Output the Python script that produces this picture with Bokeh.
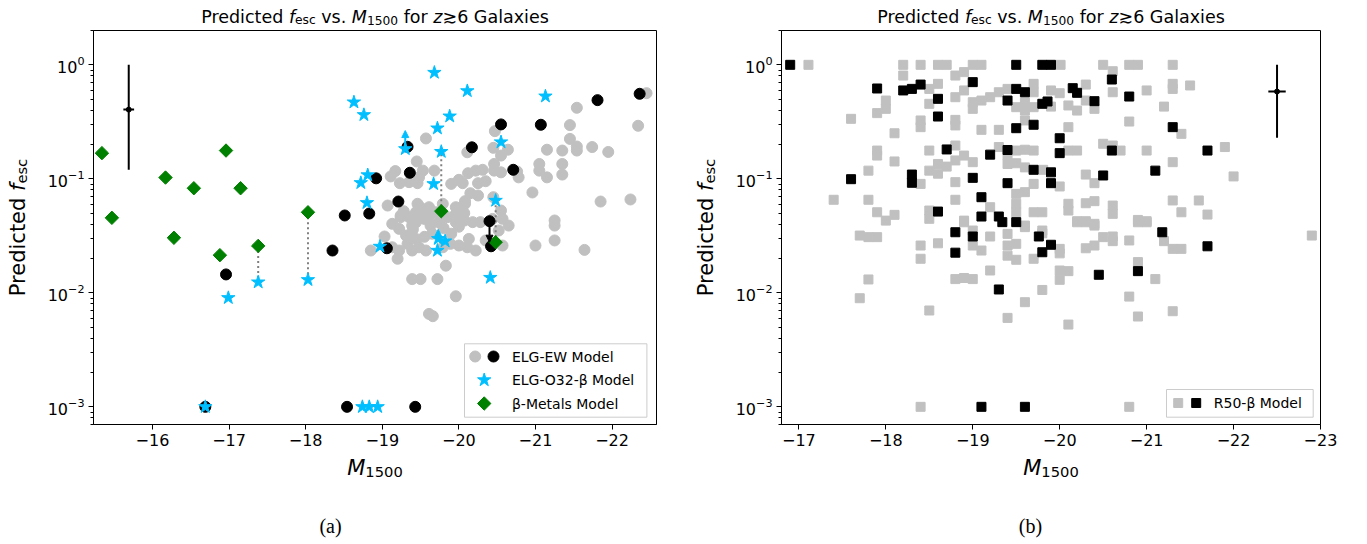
import numpy as np
from bokeh.plotting import figure
from bokeh.models import (Range1d, LinearScale, FixedTicker, LogTickFormatter, Label,
                          Arrow, NormalHead, ColumnDataSource, CustomJSTickFormatter)
from bokeh.layouts import row
from bokeh.embed import file_html
from bokeh.resources import INLINE

# ------------------------------------------------------------------ data (a)
# ELG-EW model, full sample (light gray circles)
EW_GRAY_M = [-22.45, -21.54, -21.45, -22.34, -20.47, -19.57, -21.45, -21.54, -21.74, -21.15,
             -21.35, -21.54, -21.95, -20.45, -20.64, -20.11, -20.55, -19.45, -19.17, -19.11,
             -20.46, -21.05, -21.35, -20.12, -20.22, -20.31, -20.46, -20.55, -20.76, -21.15,
             -21.35, -21.05, -20.78, -19.23, -19.35, -19.46, -19.48, -19.53, -19.68, -19.90,
             -20.00, -20.05, -20.25, -20.35, -20.96, -20.15, -20.25, -20.08, -20.45, -21.85,
             -22.24, -19.07, -19.46, -19.61, -19.79, -19.96, -20.08, -19.13, -19.24, -19.35,
             -19.44, -19.53, -19.61, -19.70, -19.85, -19.96, -20.07, -20.18, -20.28, -20.55,
             -20.57, -20.65, -21.25, -21.25, -19.39,
             -18.85, -19.03, -19.13, -19.22, -19.31, -19.39, -19.48, -19.57, -19.20, -19.33,
             -19.44, -19.79, -19.89, -20.00, -20.11, -20.22, -20.13, -19.83, -19.39, -19.50,
             -19.72, -19.96, -19.61, -19.66, -20.57, -21.00, -21.25, -20.52, -20.35, -19.24,
             -19.44, -19.55, -19.63, -19.74, -19.96, -20.07, -19.22, -20.44, -21.64,
             -19.28, -19.50, -19.65, -19.90, -20.00, -19.80, -19.40, -19.55]
EW_GRAY_F = [0.564, 0.42, 0.296, 0.292, 0.262, 0.226, 0.224, 0.192, 0.19, 0.18,
             0.177, 0.177, 0.172, 0.187, 0.18, 0.171, 0.16, 0.142, 0.117, 0.105,
             0.135, 0.135, 0.135, 0.112, 0.118, 0.12, 0.118, 0.114, 0.116, 0.103,
             0.109, 0.118, 0.103, 0.0916, 0.0935, 0.0916, 0.103, 0.118, 0.118, 0.0903,
             0.098, 0.0916, 0.0916, 0.0953, 0.0759, 0.0748, 0.0714, 0.0637, 0.069, 0.0632,
             0.0659, 0.0583, 0.0604, 0.0564, 0.0604, 0.0564, 0.0604, 0.0403, 0.0461, 0.0461,
             0.0509, 0.0476, 0.0461, 0.0509, 0.0461, 0.0493, 0.05, 0.0417, 0.0417, 0.0527,
             0.0446, 0.0389, 0.0431, 0.0389, 0.0389,
             0.0235, 0.0312, 0.0251, 0.0235, 0.0318, 0.0235, 0.0251, 0.0235, 0.0199, 0.0269,
             0.0297, 0.0251, 0.0269, 0.026, 0.0251, 0.0235, 0.0297, 0.0173, 0.0132, 0.0132,
             0.0132, 0.00933, 0.00653, 0.00624, 0.026, 0.026, 0.0288, 0.0352, 0.0288, 0.0476,
             0.0416, 0.0445, 0.0389, 0.0416, 0.0416, 0.043, 0.0364, 0.0445, 0.0238,
             0.052, 0.056, 0.033, 0.033, 0.038, 0.037, 0.036, 0.031]

# ELG-EW model, z>=6 subset (black circles)
EW_BLACK_M = [-18.92, -18.51, -18.83, -19.21, -19.33, -20.17, -20.55, -21.07, -21.81, -22.36,
              -19.36, -20.71, -20.40, -20.42, -19.06, -16.96, -18.35, -16.69, -18.54, -19.43]
EW_BLACK_F = [0.101, 0.0477, 0.0496, 0.0632, 0.191, 0.189, 0.30, 0.298, 0.49, 0.557,
              0.113, 0.12, 0.0425, 0.0256, 0.0246, 0.0145, 0.0235, 0.001, 0.001, 0.001]

# ELG-O32-beta model (stars)
O32_M = [-18.63, -18.76, -18.81, -18.72, -18.80, -19.68, -20.11, -21.13, -19.88, -19.72,
         -19.30, -20.55, -19.77, -19.67, -20.48, -18.97, -19.73, -19.82, -19.72, -20.41,
         -17.38, -18.03, -16.99, -16.69, -18.74, -18.83, -18.94]
O32_F = [0.47, 0.364, 0.108, 0.0922, 0.0616, 0.855, 0.59, 0.53, 0.354, 0.278,
         0.183, 0.21, 0.173, 0.0903, 0.0645, 0.0255, 0.0298, 0.0284, 0.0235, 0.0136,
         0.0124, 0.013, 0.00904, 0.001, 0.001, 0.001, 0.001]

# beta-Metals model (diamonds)
BM_M = [-15.34, -15.47, -16.17, -16.54, -16.96, -17.15, -18.03, -16.28, -16.88, -17.38,
        -19.77, -20.48]
BM_F = [0.168, 0.0455, 0.1026, 0.0827, 0.177, 0.0827, 0.0509, 0.0304, 0.0214, 0.0258,
        0.052, 0.0278]

# same galaxy in two models (dotted links)
LINK_M = [-17.38, -18.03, -19.77, -20.48]
LINK_F_BM = [0.0258, 0.0509, 0.052, 0.0278]
LINK_F_O32 = [0.0124, 0.013, 0.173, 0.0645]

# limits
LOWLIM_M = [-19.30, -19.73]
LOWLIM_F = [0.183, 0.0298]
LOWLIM_TO = [0.265, 0.036]
UPLIM_M = [-20.40]
UPLIM_F = [0.0425]
UPLIM_TO = [0.0278]

# representative error bar
ERR_A_M = [-15.69]
ERR_A_F = [0.405]
ERR_A_LO = [0.12]
ERR_A_HI = [1.0]
ERR_A_MERR = [0.07]

# ------------------------------------------------------------------ data (b)
R50_GRAY_M = [-17.11, -18.20, -18.40, -18.60, -18.70, -19.00, -19.10,
              -18.20, -18.80, -18.90, -18.60, -18.50, -18.50, -18.00, -18.00, -17.90, -17.60,
              -18.10, -18.40, -18.40, -18.80, -18.80, -18.90, -18.80, -19.00, -19.10, -19.20,
              -19.30, -19.40, -19.70, -19.70, -19.00, -19.10, -19.30, -19.60, -19.50, -19.60,
              -19.70, -19.60, -17.90, -17.90, -18.10, -18.50, -18.80, -18.90, -18.80, -19.00,
              -18.60, -18.70, -18.50, -18.60, -19.30, -19.40, -19.50, -19.60, -19.70, -19.40,
              -19.50, -19.60, -17.80, -18.40, -18.80, -19.70, -17.40, -17.80, -17.90, -18.00,
              -18.10, -18.50, -18.50, -18.80, -18.90, -19.20, -19.50, -19.60, -19.50, -19.50,
              -19.60, -19.70,
              -20.01, -20.50, -20.80, -20.90, -21.30, -20.61, -19.90, -20.00, -20.30, -20.30,
              -20.20, -20.10, -20.40, -19.90, -20.61, -21.00, -21.30, -21.30, -21.50, -21.20,
              -20.80, -20.10, -21.40, -20.10, -20.20, -20.50, -20.61, -20.70, -21.00, -21.30,
              -21.90, -19.81, -20.30, -20.40, -20.00, -22.00, -19.80, -20.10, -20.10, -20.30,
              -20.40, -20.61, -20.61, -21.30, -21.60, -21.40, -21.70, -20.20, -20.30, -20.40,
              -20.90, -21.00, -19.80,
              -17.70, -17.80, -17.90, -18.40, -18.40, -18.60, -18.90, -19.00, -19.00, -19.10,
              -19.20, -19.40, -19.40, -19.50, -19.40, -19.50, -19.60, -19.70, -19.20, -18.80,
              -18.90, -19.00, -17.80, -17.70, -18.50, -19.40, -19.60, -18.40,
              -20.20, -20.30, -20.40, -20.90, -21.00, -19.80, -20.00, -20.00, -20.30, -20.40,
              -20.50, -20.61, -20.61, -20.80, -21.20, -21.30, -21.40, -20.00, -20.10, -20.00,
              -20.90, -21.10, -19.80, -20.80, -20.90, -21.30, -20.10, -22.90, -20.80]
R50_GRAY_F = [1.0, 1.0, 1.0, 1.0, 1.0, 1.0, 1.0,
              0.805, 0.805, 0.863, 0.681, 0.615, 0.455, 0.486, 0.411, 0.377, 0.336,
              0.251, 0.325, 0.284, 0.329, 0.294, 0.596, 0.52, 0.47, 0.486, 0.52,
              0.575, 0.615, 0.681, 0.575, 0.411, 0.269, 0.269, 0.47, 0.425, 0.397,
              0.425, 0.325, 0.177, 0.16, 0.142, 0.177, 0.196, 0.16, 0.145, 0.14,
              0.135, 0.128, 0.118, 0.111, 0.19, 0.16, 0.177, 0.18, 0.177, 0.135,
              0.137, 0.126, 0.118, 0.0903, 0.0935, 0.0903, 0.0655, 0.0655, 0.0509, 0.043,
              0.0483, 0.0527, 0.0446, 0.0655, 0.043, 0.0564, 0.0738, 0.0764, 0.0604, 0.0509,
              0.0377, 0.0509,
              1.0, 1.0, 1.0, 1.0, 1.0, 0.879, 0.596, 0.564, 0.671, 0.486,
              0.397, 0.44, 0.411, 0.43, 0.575, 0.596, 0.681, 0.615, 0.659, 0.43,
              0.318, 0.284, 0.248, 0.177, 0.177, 0.203, 0.196, 0.177, 0.177, 0.14,
              0.19, 0.12, 0.109, 0.0916, 0.0857, 0.105, 0.0509, 0.0604, 0.0527, 0.0611,
              0.0637, 0.0583, 0.0493, 0.0646, 0.0646, 0.0509, 0.0486, 0.0425, 0.0425, 0.0403,
              0.0436, 0.0425, 0.0352,
              0.0318, 0.0308, 0.0308, 0.026, 0.0199, 0.0272, 0.0416, 0.0352, 0.026, 0.0235,
              0.0312, 0.0329, 0.026, 0.0269, 0.0212, 0.0195, 0.0389, 0.0199, 0.0157, 0.0132,
              0.0135, 0.0132, 0.0131, 0.00897, 0.007, 0.00603, 0.00828, 0.001,
              0.0416, 0.0416, 0.0389, 0.0416, 0.0416, 0.0333, 0.0243, 0.0222, 0.0246, 0.026,
              0.0308, 0.0312, 0.0284, 0.0288, 0.0284, 0.0243, 0.0243, 0.0157, 0.0155, 0.013,
              0.0186, 0.0132, 0.0106, 0.00927, 0.0062, 0.0069, 0.00527, 0.0318, 0.001]

R50_BLACK_M = [-16.90, -17.90, -18.20, -18.30, -18.40, -18.60, -18.60, -19.00, -19.50, -19.40,
               -19.50, -19.60, -19.70, -19.50, -18.70, -19.20, -19.40, -19.70, -17.60, -18.30,
               -18.30, -19.00, -19.40, -19.10, -18.60, -19.10, -19.30, -19.34, -19.50, -19.80,
               -19.90, -20.60, -20.15, -20.20, -20.40, -20.80, -19.80, -19.86, -21.30, -20.00,
               -20.00, -20.60, -21.70, -19.90, -19.90, -20.50, -21.10, -18.80, -19.00, -18.80,
               -19.30, -19.10, -19.60, -19.76, -19.90, -19.80, -21.18, -21.70, -20.45, -20.90]
R50_BLACK_F = [1.0, 0.62, 0.596, 0.615, 0.671, 0.503, 0.352, 0.705, 1.0, 0.486,
               0.615, 0.575, 0.298, 0.278, 0.181, 0.163, 0.179, 0.12, 0.0993, 0.109,
               0.0923, 0.102, 0.0916, 0.069, 0.0516, 0.0467, 0.0467, 0.0417, 0.0417, 1.0,
               1.0, 0.743, 0.624, 0.568, 0.48, 0.527, 0.455, 0.477, 0.284, 0.227,
               0.168, 0.177, 0.177, 0.114, 0.0916, 0.107, 0.118, 0.034, 0.0312, 0.0225,
               0.0107, 0.001, 0.001, 0.0312, 0.0264, 0.0227, 0.034, 0.0256, 0.0144, 0.0155]

ERR_B_M = [-22.50]
ERR_B_F = [0.583]
ERR_B_LO = [0.229]
ERR_B_HI = [1.0]
ERR_B_MERR = [0.1]

# ------------------------------------------------------------------ axes
XLIM_A = (-15.23, -22.58)
XLIM_B = (-16.80, -23.00)
YLIM = (7e-4, 2.0)
XTICKS_A = [-16, -17, -18, -19, -20, -21, -22]
XTICKS_B = [-17, -18, -19, -20, -21, -22, -23]
YTICKS = [1e-3, 1e-2, 1e-1, 1.0]
YMINOR = [k * 10.0 ** e for e in range(-4, 1) for k in range(2, 10) if YLIM[0] <= k * 10.0 ** e <= YLIM[1]]

LEGEND_A = ["ELG-EW Model", "ELG-O32-\u03b2 Model", "\u03b2-Metals Model"]
LEGEND_B = ["R50-\u03b2 Model"]
CAPTIONS = ["(a)", "(b)"]

# ------------------------------------------------------------------ style / layout
GRAY = "#c0c0c0"
BLUE = "#00bfff"
GREEN = "#008000"
FONT = "DejaVu Sans"
BT, FH, BB = 30, 394, 118
FW_A, BL_A, BR_A = 563, 93, 32
FW_B, BL_B, BR_B = 539, 93, 30
W_A = BL_A + FW_A + BR_A
W_B = BL_B + FW_B + BR_B
H = BT + FH + BB
TITLE_SIZE = 17.5
AXLAB_SIZE = 21.0
TICK_SIZE = "16px"
LEG_SIZE = "14px"

try:
    from PIL import ImageFont
except Exception:
    ImageFont = None

_cache = {}


def _font(name):
    if name in _cache:
        return _cache[name]
    f = None
    if ImageFont is not None:
        for d in ["", "/usr/share/fonts/truetype/dejavu/", "/usr/share/fonts/dejavu/",
                  "/usr/share/fonts/TTF/", "/usr/share/fonts/truetype/"]:
            try:
                f = ImageFont.truetype(d + name, 100)
                break
            except Exception:
                pass
    _cache[name] = f
    return f


def text_width(s, size, italic=False):
    f = _font("DejaVuSans-Oblique.ttf") if italic else None
    if f is None:
        f = _font("DejaVuSans.ttf")
    if f is None:
        return 0.6 * size * len(s)
    return f.getlength(s) * size / 100.0


def _seg_metrics(t, sz, it):
    core = t.strip(" ")
    lead = (len(t) - len(t.lstrip(" "))) * text_width(" ", sz)
    trail = (len(t) - len(t.rstrip(" "))) * text_width(" ", sz)
    return core, lead, text_width(core, sz, it), trail


def rich_text(p, segs, x, y, size, vertical=False):
    """segs: (text, scale, italic, drop_em). x,y: centre along the text and baseline."""
    mets = [_seg_metrics(t, size * sc, it) for t, sc, it, dr in segs]
    total = sum(l + w + r for _, l, w, r in mets)
    pos = (y if vertical else x) - total / 2.0
    for (t, sc, it, dr), (core, lead, w, trail) in zip(segs, mets):
        pos += lead
        if vertical:
            lx, ly, ang = x + dr * size, pos, np.pi / 2
        else:
            lx, ly, ang = pos, y - dr * size, 0.0
        p.add_layout(Label(x=lx, y=ly, x_units="screen", y_units="screen", text=core, angle=ang,
                           text_align="left", text_baseline="alphabetic", text_font=FONT,
                           text_font_size=f"{size * sc:.2f}px",
                           text_font_style="italic" if it else "normal", text_color="black"))
        pos += w + trail


TITLE_SEGS = [("Predicted ", 1, False, 0), ("f", 1, True, 0), ("esc", 0.7, False, 0.2),
              (" vs. ", 1, False, 0), ("M", 1, True, 0), ("1500", 0.7, False, 0.2),
              (" for ", 1, False, 0), ("z", 1, True, 0), ("\u22736 Galaxies", 1, False, 0)]
YLAB_SEGS = [("Predicted ", 1, False, 0), ("f", 1, True, 0), ("esc", 0.7, False, 0.2)]
XLAB_SEGS = [("M", 1, True, 0), ("1500", 0.7, False, 0.2)]


def make_fig(xlim, xticks, fw, bl, br):
    p = figure(frame_width=fw, frame_height=FH, x_range=Range1d(*xlim), y_range=Range1d(*YLIM),
               y_axis_type="log", output_backend="svg", toolbar_location=None,
               min_border_left=bl, min_border_right=br, min_border_top=BT, min_border_bottom=BB)
    p.background_fill_color = "white"
    p.border_fill_color = "white"
    p.outline_line_color = "black"
    p.outline_line_alpha = 1.0
    p.outline_line_width = 1
    p.grid.visible = False
    p.xaxis.ticker = FixedTicker(ticks=xticks)
    p.xaxis.formatter = CustomJSTickFormatter(code="return '\u2212' + Math.abs(tick).toFixed(0);")
    p.yaxis.ticker = FixedTicker(ticks=YTICKS, minor_ticks=YMINOR)
    p.yaxis.formatter = LogTickFormatter()
    for ax in (p.xaxis[0], p.yaxis[0]):
        ax.axis_line_color = "black"
        ax.major_tick_line_color = "black"
        ax.minor_tick_line_color = "black"
        ax.major_tick_in = 0
        ax.major_tick_out = 5
        ax.minor_tick_in = 0
        ax.minor_tick_out = 3
        ax.major_label_text_font = FONT
        ax.major_label_text_font_size = TICK_SIZE
        ax.major_label_text_color = "black"
        ax.major_label_standoff = 4
    p.extra_x_ranges = {"px": Range1d(0, fw)}
    p.extra_y_ranges = {"py": Range1d(0, FH)}
    p.extra_x_scales = {"px": LinearScale()}
    p.extra_y_scales = {"py": LinearScale()}
    return p


def errbar(p, m, f, lo, hi, merr):
    m = np.asarray(m); merr = np.asarray(merr)
    p.segment(x0=m, y0=lo, x1=m, y1=hi, line_color="black", line_width=2)
    p.segment(x0=m - merr, y0=f, x1=m + merr, y1=f, line_color="black", line_width=2)
    p.scatter(m, f, marker="circle", size=5, color="black")


# ------------------------------------------------------------------ panel (a)
p1 = make_fig(XLIM_A, XTICKS_A, FW_A, BL_A, BR_A)
p1.scatter(EW_GRAY_M, EW_GRAY_F, marker="circle", size=11, fill_color=GRAY, line_color=GRAY)
p1.segment(x0=LINK_M, y0=LINK_F_BM, x1=LINK_M, y1=LINK_F_O32, line_color="gray",
           line_dash="2 3", line_width=2)
p1.scatter(EW_BLACK_M, EW_BLACK_F, marker="circle", size=11, color="black")
p1.scatter(O32_M, O32_F, marker="star", size=14, color=BLUE)
p1.scatter(BM_M, BM_F, marker="square", angle=np.pi / 4, size=9.5, color=GREEN)
p1.add_layout(Arrow(end=NormalHead(size=7, fill_color=BLUE, line_color=BLUE),
                    x_start="m", y_start="f0", x_end="m", y_end="f1",
                    source=ColumnDataSource(dict(m=LOWLIM_M, f0=LOWLIM_F, f1=LOWLIM_TO)),
                    line_color=BLUE, line_width=2))
p1.add_layout(Arrow(end=NormalHead(size=7, fill_color="black", line_color="black"),
                    x_start="m", y_start="f0", x_end="m", y_end="f1",
                    source=ColumnDataSource(dict(m=UPLIM_M, f0=UPLIM_F, f1=UPLIM_TO)),
                    line_color="black", line_width=2))
errbar(p1, ERR_A_M, ERR_A_F, ERR_A_LO, ERR_A_HI, ERR_A_MERR)

# legend (a) -- drawn in frame pixel space
LA_BOX = dict(left=371, right=553.4, bottom=7.3, top=80.7)
LA_ROWS = [68, 44.5, 21]
p1.quad(left=[LA_BOX["left"]], right=[LA_BOX["right"]], bottom=[LA_BOX["bottom"]], top=[LA_BOX["top"]],
        x_range_name="px", y_range_name="py", fill_color="white", fill_alpha=0.8,
        line_color="#cccccc", line_width=1)
p1.scatter([381.7], [LA_ROWS[0]], x_range_name="px", y_range_name="py", marker="circle", size=11, color=GRAY)
p1.scatter([400.0], [LA_ROWS[0]], x_range_name="px", y_range_name="py", marker="circle", size=11, color="black")
p1.scatter([390.7], [LA_ROWS[1]], x_range_name="px", y_range_name="py", marker="star", size=14, color=BLUE)
p1.scatter([390.7], [LA_ROWS[2]], x_range_name="px", y_range_name="py", marker="square",
           angle=np.pi / 4, size=9.5, color=GREEN)
for txt, yy in zip(LEGEND_A, LA_ROWS):
    p1.add_layout(Label(x=418.4, y=yy, x_units="screen", y_units="screen", text=txt,
                        text_align="left", text_baseline="middle", text_font=FONT,
                        text_font_size=LEG_SIZE, text_color="black"))

# ------------------------------------------------------------------ panel (b)
p2 = make_fig(XLIM_B, XTICKS_B, FW_B, BL_B, BR_B)
p2.scatter(R50_GRAY_M, R50_GRAY_F, marker="square", size=9, color=GRAY)
p2.scatter(R50_BLACK_M, R50_BLACK_F, marker="square", size=9, color="black")
errbar(p2, ERR_B_M, ERR_B_F, ERR_B_LO, ERR_B_HI, ERR_B_MERR)

LB_BOX = dict(left=385, right=531.7, bottom=7.3, top=35)
LB_ROW = 21.5
p2.quad(left=[LB_BOX["left"]], right=[LB_BOX["right"]], bottom=[LB_BOX["bottom"]], top=[LB_BOX["top"]],
        x_range_name="px", y_range_name="py", fill_color="white", fill_alpha=0.8,
        line_color="#cccccc", line_width=1)
p2.scatter([396.7], [LB_ROW], x_range_name="px", y_range_name="py", marker="square", size=9, color=GRAY)
p2.scatter([414.7], [LB_ROW], x_range_name="px", y_range_name="py", marker="square", size=9, color="black")
p2.add_layout(Label(x=432.3, y=LB_ROW, x_units="screen", y_units="screen", text=LEGEND_B[0],
                    text_align="left", text_baseline="middle", text_font=FONT,
                    text_font_size=LEG_SIZE, text_color="black"))

# ------------------------------------------------------------------ text overlay (titles, axis labels, captions)
WT = W_A + W_B
ov = figure(width=WT, height=H, x_range=Range1d(0, WT), y_range=Range1d(0, H),
            x_axis_location=None, y_axis_location=None, toolbar_location=None,
            output_backend="svg", min_border=0)
ov.grid.visible = False
ov.outline_line_color = None
ov.background_fill_alpha = 0
ov.border_fill_alpha = 0
ov.styles = {"position": "absolute", "left": "0px", "top": "0px", "z-index": "10",
             "pointer-events": "none"}

for left0, fw, cap, cap_dx in [(BL_A, FW_A, CAPTIONS[0], 237.0), (W_A + BL_B, FW_B, CAPTIONS[1], 249.0)]:
    frame_bottom = BB
    frame_top = BB + FH
    cx = left0 + fw / 2.0
    rich_text(ov, TITLE_SEGS, cx, frame_top + 14, TITLE_SIZE)
    rich_text(ov, YLAB_SEGS, left0 - 76, frame_bottom + FH / 2.0, AXLAB_SIZE, vertical=True)
    rich_text(ov, XLAB_SEGS, cx, frame_bottom - 43, AXLAB_SIZE)
    ov.add_layout(Label(x=left0 + cap_dx, y=BB - 101, x_units="screen", y_units="screen", text=cap,
                        text_align="center", text_baseline="alphabetic",
                        text_font="Liberation Serif", text_font_size="20px", text_color="black"))

layout = row(p1, p2)
open("out.html", "w").write(file_html([layout, ov], INLINE))
